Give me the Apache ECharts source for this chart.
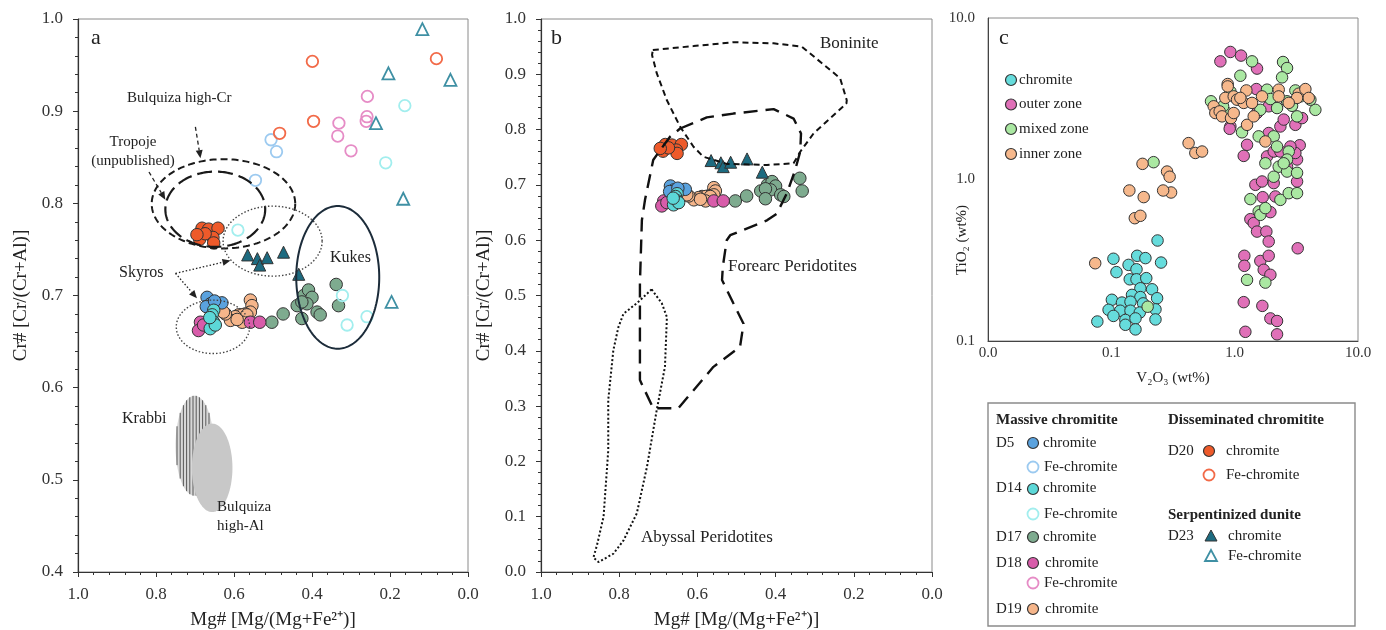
<!DOCTYPE html>
<html>
<head>
<meta charset="utf-8">
<script src="https://cdn.jsdelivr.net/npm/echarts@6.0.0/dist/echarts.min.js"></script>
<style>html,body{margin:0;padding:0;background:#fff}#chart{width:1386px;height:630px}</style>
</head>
<body>
<div id="chart"></div>
<script>
// ---------- spinel compositions: [Mg#, Cr#] ----------
const d5Chromite = [[0.669,0.698],[0.660,0.691],[0.631,0.692],[0.671,0.688],[0.650,0.694]];
const d5FeChromite = [[0.505,0.869],[0.491,0.856],[0.545,0.825]];
const d14Chromite = [[0.652,0.684],[0.656,0.679],[0.652,0.671],[0.661,0.664],[0.648,0.668],[0.662,0.676]];
const d14FeChromite = [[0.162,0.906],[0.211,0.844],[0.590,0.771],[0.322,0.700],[0.310,0.668],[0.259,0.677]];
const d17Chromite = [[0.503,0.671],[0.474,0.680],[0.438,0.689],[0.421,0.700],[0.409,0.706],[0.400,0.698],[0.413,0.691],[0.426,0.693],[0.387,0.682],[0.379,0.679],[0.426,0.675],[0.338,0.712],[0.332,0.689]];
const d18Chromite = [[0.686,0.671],[0.691,0.662],[0.678,0.668],[0.558,0.671],[0.534,0.671]];
const d18FeChromite = [[0.258,0.916],[0.259,0.894],[0.261,0.889],[0.331,0.887],[0.334,0.873],[0.300,0.857]];
const d19Chromite = [[0.558,0.695],[0.554,0.689],[0.558,0.682],[0.571,0.680],[0.588,0.679],[0.579,0.679],[0.567,0.679],[0.597,0.677],[0.609,0.673],[0.622,0.680],[0.627,0.682],[0.579,0.671],[0.592,0.674]];
const d20Chromite = [[0.682,0.773],[0.665,0.772],[0.641,0.773],[0.688,0.761],[0.654,0.763],[0.652,0.757],[0.674,0.767],[0.695,0.766]];
const d20FeChromite = [[0.399,0.954],[0.081,0.957],[0.396,0.889],[0.483,0.876]];
const d23Chromite = [[0.565,0.744],[0.540,0.740],[0.534,0.733],[0.515,0.741],[0.473,0.747],[0.434,0.723]];
const d23FeChromite = [[0.117,0.989],[0.045,0.934],[0.204,0.941],[0.236,0.887],[0.166,0.805],[0.196,0.693]];

// ---------- V2O3 vs TiO2 (wt%) by zone: [V2O3, TiO2] ----------
const zoneChromite = [[0.237,0.419],[0.104,0.323],[0.162,0.337],[0.189,0.326],[0.253,0.306],[0.110,0.267],[0.138,0.296],[0.160,0.278],[0.141,0.241],[0.160,0.241],[0.192,0.245],[0.172,0.212],[0.214,0.209],[0.147,0.193],[0.172,0.187],[0.235,0.184],[0.101,0.180],[0.122,0.173],[0.143,0.175],[0.181,0.171],[0.095,0.156],[0.118,0.154],[0.143,0.154],[0.170,0.150],[0.228,0.157],[0.104,0.143],[0.130,0.135],[0.157,0.138],[0.228,0.136],[0.077,0.132],[0.130,0.126],[0.157,0.118]];
const outerZone = [[0.766,5.39],[0.923,6.16],[1.126,5.85],[1.518,4.86],[1.500,3.63],[1.888,2.84],[1.518,2.58],[0.923,2.13],[1.888,1.94],[2.348,2.13],[2.498,2.35],[3.106,2.18],[3.518,2.40],[3.369,1.63],[3.205,1.33],[1.260,1.64],[1.184,1.40],[1.830,1.39],[2.073,1.49],[2.348,1.49],[3.106,1.46],[1.472,0.927],[1.667,0.972],[2.073,0.950],[3.205,0.972],[2.138,0.785],[1.688,0.777],[2.659,1.20],[1.341,0.568],[1.427,0.537],[1.518,0.476],[1.807,0.476],[1.888,0.413],[1.948,0.628],[1.198,0.337],[1.198,0.292],[1.615,0.313],[1.888,0.337],[1.720,0.276],[1.948,0.257],[3.245,0.375],[1.184,0.174],[1.677,0.165],[1.948,0.138],[2.206,0.133],[1.221,0.114],[2.206,0.110],[2.830,1.60],[0.911,2.06]];
const mixedZone = [[0.643,3.05],[1.112,4.39],[1.383,5.39],[2.467,5.34],[2.659,4.90],[2.422,4.29],[1.830,3.60],[1.948,3.15],[2.206,2.77],[2.659,3.05],[2.919,2.86],[3.205,2.46],[4.512,2.70],[4.111,3.12],[3.106,3.56],[1.147,1.96],[1.566,1.85],[1.774,1.26],[2.073,1.85],[2.206,1.60],[2.744,1.49],[2.659,1.33],[2.276,1.20],[2.659,1.12],[3.205,1.10],[2.073,1.04],[1.341,0.756],[1.566,0.634],[1.615,0.604],[1.774,0.665],[2.348,0.748],[2.744,0.823],[3.205,0.823],[1.260,0.239],[1.774,0.230],[0.867,2.58],[0.805,2.84],[0.923,3.51],[1.615,2.70],[3.411,3.27],[2.498,1.26],[0.220,1.28],[0.197,0.163]];
const innerZone = [[0.878,3.90],[0.878,3.77],[0.840,3.20],[0.982,3.27],[1.045,3.12],[1.244,3.56],[1.184,2.98],[1.383,2.98],[1.667,3.27],[2.276,3.60],[2.276,3.27],[3.306,3.40],[3.744,3.63],[3.985,3.20],[3.205,3.20],[0.676,2.84],[0.697,2.58],[0.756,2.64],[0.790,2.46],[0.934,2.40],[0.982,2.58],[1.260,2.18],[1.427,2.46],[1.774,1.72],[1.112,3.20],[2.744,2.98],[0.423,1.68],[0.480,1.46],[0.544,1.49],[0.179,1.25],[0.283,1.12],[0.297,1.04],[0.305,0.831],[0.263,0.855],[0.140,0.855],[0.183,0.778],[0.155,0.576],[0.172,0.596],[0.074,0.303]];

// ---------- literature fields, panel a: [centre Mg#, centre Cr#, half-width, half-height] ----------
const bulquizaHighCr = [0.627, 0.7995, 0.184, 0.0484];
const tropoje = [0.648, 0.7936, 0.128, 0.0408];
const skyrosUpper = [0.501, 0.759, 0.127, 0.038];
const skyrosLower = [0.654, 0.666, 0.094, 0.029];
const kukes = [0.334, 0.7197, 0.1064, 0.0774];
const krabbi = [0.701, 0.537, 0.049, 0.0543];
const bulquizaHighAl = [0.656, 0.513, 0.052, 0.048];
// pointers: [from Mg#, from Cr#, to Mg#, to Cr#]
const dashedPointers = [[0.699,0.883,0.686,0.849],[0.818,0.834,0.776,0.804]];
const dottedPointers = [[0.750,0.724,0.609,0.738],[0.750,0.724,0.695,0.697]];

// ---------- tectonic fields, panel b: outlines in [Mg#, Cr#] ----------
const boninite = [[0.714,0.944],[0.610,0.951],[0.508,0.958],[0.405,0.956],[0.333,0.950],[0.235,0.893],[0.218,0.853],[0.219,0.847],[0.303,0.793],[0.337,0.760],[0.354,0.739],[0.422,0.736],[0.525,0.738],[0.585,0.751],[0.610,0.769],[0.644,0.805],[0.678,0.853],[0.704,0.902],[0.716,0.935],[0.714,0.944]];
const forearc = [[0.644,0.802],[0.576,0.822],[0.508,0.829],[0.405,0.837],[0.354,0.820],[0.335,0.793],[0.337,0.760],[0.350,0.727],[0.371,0.685],[0.397,0.648],[0.422,0.636],[0.516,0.609],[0.525,0.600],[0.535,0.552],[0.537,0.528],[0.508,0.486],[0.482,0.449],[0.491,0.407],[0.559,0.371],[0.649,0.296],[0.713,0.296],[0.747,0.347],[0.747,0.491],[0.747,0.522],[0.742,0.636],[0.734,0.673],[0.713,0.745],[0.695,0.763],[0.670,0.787],[0.644,0.802]];
const abyssal = [[0.717,0.511],[0.691,0.486],[0.678,0.461],[0.683,0.371],[0.704,0.293],[0.729,0.190],[0.755,0.106],[0.789,0.057],[0.815,0.033],[0.853,0.018],[0.866,0.026],[0.857,0.048],[0.840,0.100],[0.828,0.220],[0.828,0.311],[0.815,0.401],[0.802,0.443],[0.789,0.467],[0.755,0.486],[0.717,0.511]];

// ---------- styling ----------
const SERIF = '"Liberation Serif", "Times New Roman", serif';
const INK = '#222';
const C = {
  d5: '#5aa2de', d5Fe: '#9ccaf0',
  d14: '#5cd8d8', d14Fe: '#a2eeee',
  d17: '#7eab8f',
  d18: '#d85caa', d18Fe: '#e68cc6',
  d19: '#f5b58a',
  d20: '#ee5a2a', d20Fe: '#f26a48',
  d23: '#1d6b80', d23Fe: '#3f90a4',
  zChromite: '#66dcdc', zOuter: '#e070b8', zMixed: '#aae8a2', zInner: '#f6b88c'
};

function filled(name, data, color, idx, symbol, size) {
  return { name, type: 'scatter', xAxisIndex: idx, yAxisIndex: idx, data,
    symbol: symbol || 'circle', symbolSize: size || 12.5, z: 5, silent: true, animation: false,
    itemStyle: { color, borderColor: '#333', borderWidth: 1, opacity: 1 } };
}
function hollow(name, data, color, idx, symbol, size) {
  return { name, type: 'scatter', xAxisIndex: idx, yAxisIndex: idx, data,
    symbol: symbol || 'circle', symbolSize: size || 11.5, z: 5, silent: true, animation: false,
    itemStyle: { color: 'rgba(255,255,255,0)', borderColor: color, borderWidth: 1.8, opacity: 1 } };
}

// ellipse-shaped field drawn through the axes' own scales
function fieldEllipse(field, st) {
  return {
    type: 'custom', xAxisIndex: 0, yAxisIndex: 0, silent: true, animation: false, z: st.z || 10,
    dimensions: ['x', 'y', 'rx', 'ry'], encode: { x: 0, y: 1 }, clip: false,
    data: [field],
    renderItem(params, api) {
      const cx = api.value(0), cy = api.value(1);
      const c = api.coord([cx, cy]);
      const ex = Math.abs(api.coord([cx + api.value(2), cy])[0] - c[0]);
      const ey = Math.abs(api.coord([cx, cy + api.value(3)])[1] - c[1]);
      const pts = [];
      for (let i = 0; i < 180; i++) {
        const a = i / 180 * Math.PI * 2;
        pts.push([c[0] + ex * Math.cos(a), c[1] + ey * Math.sin(a)]);
      }
      const children = [{ type: 'polygon', shape: { points: pts },
        style: { fill: st.fill || 'none', stroke: st.stroke || 'none', lineWidth: st.width || 0, lineDash: st.dash || null } }];
      if (st.hatch) {
        for (let dx = -ex + 1.5; dx < ex; dx += st.hatch) {
          const h = ey * Math.sqrt(1 - (dx / ex) * (dx / ex));
          children.push({ type: 'line', shape: { x1: c[0] + dx, y1: c[1] - h, x2: c[0] + dx, y2: c[1] + h },
            style: { stroke: '#4a4a4a', lineWidth: 0.9 } });
        }
      }
      return { type: 'group', children };
    }
  };
}

function pointerSeries(list, dash) {
  return {
    type: 'custom', xAxisIndex: 0, yAxisIndex: 0, silent: true, animation: false, z: 12,
    dimensions: ['x1', 'y1', 'x2', 'y2'], encode: { x: 0, y: 1 }, clip: false,
    data: list,
    renderItem(params, api) {
      const p1 = api.coord([api.value(0), api.value(1)]);
      const p2 = api.coord([api.value(2), api.value(3)]);
      const ang = Math.atan2(p2[1] - p1[1], p2[0] - p1[0]);
      const L = 8, W = 3.5;
      const base = [p2[0] - L * Math.cos(ang), p2[1] - L * Math.sin(ang)];
      const nx = -Math.sin(ang), ny = Math.cos(ang);
      return { type: 'group', children: [
        { type: 'polyline', shape: { points: [p1, base] }, style: { stroke: '#222', lineWidth: 1.3, lineDash: dash, fill: 'none' } },
        { type: 'polygon', shape: { points: [p2, [base[0] + nx * W, base[1] + ny * W], [base[0] - nx * W, base[1] - ny * W]] },
          style: { fill: '#222' } }
      ] };
    }
  };
}

function outline(data, dash, width) {
  return { type: 'line', xAxisIndex: 1, yAxisIndex: 1, data, showSymbol: false, symbol: 'none',
    silent: true, animation: false, z: 10, smooth: false,
    lineStyle: { color: '#111', width, type: dash } };
}

const tickLabel = { fontFamily: SERIF, fontSize: 17, color: '#333' };
const nameStyle = { fontFamily: SERIF, fontSize: 19, color: INK };

function mgAxis(grid) {
  return { gridIndex: grid, type: 'value', min: 0, max: 1, interval: 0.2, inverse: true,
    axisLine: { onZero: false, lineStyle: { color: '#333', width: 1.2 } },
    axisTick: { show: true, length: 5, lineStyle: { color: '#333' } },
    minorTick: { show: true, splitNumber: 5, length: 3, lineStyle: { color: '#333' } },
    splitLine: { show: false },
    axisLabel: Object.assign({ margin: 14, formatter: v => v.toFixed(1) }, tickLabel),
    name: 'Mg# [Mg/(Mg+Fe²⁺)]', nameLocation: 'middle', nameGap: 39, nameTextStyle: nameStyle };
}
function crAxis(grid, min) {
  return { gridIndex: grid, type: 'value', min, max: 1, interval: 0.1,
    axisLine: { onZero: false, lineStyle: { color: '#333', width: 1.2 } },
    axisTick: { show: true, length: 5, lineStyle: { color: '#333' } },
    minorTick: { show: true, splitNumber: 5, length: 3, lineStyle: { color: '#333' } },
    splitLine: { show: false },
    axisLabel: Object.assign({ margin: 15, formatter: v => v.toFixed(1) }, tickLabel),
    name: 'Cr# [Cr/(Cr+Al)]', nameLocation: 'middle', nameGap: 47, nameTextStyle: nameStyle };
}
const logLabel = { fontFamily: SERIF, fontSize: 15, color: '#333', formatter: v => Number(v).toFixed(1) };

// ---------- legend / annotation graphics ----------
function txt(text, x, y, size, o) {
  o = o || {};
  return { type: 'text', x, y, rotation: o.rot || 0, silent: true, z: 100,
    style: { text, fontFamily: SERIF, fontSize: size, fontWeight: o.bold ? 'bold' : 'normal',
      fill: INK, align: o.align || 'left', verticalAlign: 'middle' } };
}
function dot(cx, cy, color, open) {
  return { type: 'circle', silent: true, z: 100, shape: { cx, cy, r: 5.5 },
    style: open ? { fill: '#fff', stroke: color, lineWidth: 1.8 } : { fill: color, stroke: '#333', lineWidth: 1.2 } };
}
function tri(cx, cy, color, open) {
  return { type: 'polygon', silent: true, z: 100,
    shape: { points: [[cx, cy - 6], [cx + 6, cy + 5], [cx - 6, cy + 5]] },
    style: open ? { fill: '#fff', stroke: color, lineWidth: 1.8 } : { fill: color, stroke: '#333', lineWidth: 1 } };
}

const graphics = [
  // panel letters
  txt('a', 91, 38, 22), txt('b', 551, 38, 22), txt('c', 999, 38, 22),
  // panel a field names
  txt('Bulquiza high-Cr', 127, 98, 15),
  txt('Tropoje', 133, 142, 15, { align: 'center' }),
  txt('(unpublished)', 133, 161, 15, { align: 'center' }),
  txt('Skyros', 119, 273, 16),
  txt('Kukes', 330, 258, 16),
  txt('Krabbi', 122, 419, 16),
  txt('Bulquiza', 217, 507, 15),
  txt('high-Al', 217, 526, 15),
  // panel b field names
  txt('Boninite', 820, 44, 17),
  txt('Forearc Peridotites', 728, 267, 17),
  txt('Abyssal Peridotites', 641, 538, 17),
  // panel c y-axis name
  txt('TiO₂ (wt%)', 962, 240, 15, { rot: Math.PI / 2, align: 'center' }),
  // panel c zone legend
  dot(1011, 80, C.zChromite), txt('chromite', 1019, 80, 15),
  dot(1011, 104.5, C.zOuter), txt('outer zone', 1019, 104.5, 15),
  dot(1011, 129, C.zMixed), txt('mixed zone', 1019, 129, 15),
  dot(1011, 154, C.zInner), txt('inner zone', 1019, 154, 15),
  // sample legend box
  { type: 'rect', silent: true, z: 99, shape: { x: 988, y: 403, width: 367, height: 223 },
    style: { fill: '#fff', stroke: '#8a8a8a', lineWidth: 1.4 } },
  txt('Massive chromitite', 996, 420, 15, { bold: true }),
  txt('D5', 996, 443, 15), dot(1033, 443, C.d5), txt('chromite', 1043, 443, 15),
  dot(1033, 467, C.d5Fe, true), txt('Fe-chromite', 1044, 467, 15),
  txt('D14', 996, 488, 15), dot(1033, 489, C.d14), txt('chromite', 1043, 488, 15),
  dot(1033, 514, C.d14Fe, true), txt('Fe-chromite', 1044, 514, 15),
  txt('D17', 996, 537, 15), dot(1033, 537, C.d17), txt('chromite', 1043, 537, 15),
  txt('D18', 996, 563, 15), dot(1033, 563, C.d18), txt('chromite', 1045, 563, 15),
  dot(1033, 583, C.d18Fe, true), txt('Fe-chromite', 1044, 583, 15),
  txt('D19', 996, 609, 15), dot(1033, 609, C.d19), txt('chromite', 1045, 609, 15),
  txt('Disseminated chromitite', 1168, 420, 15, { bold: true }),
  txt('D20', 1168, 451, 15), dot(1209, 451, C.d20), txt('chromite', 1226, 451, 15),
  dot(1209, 475, C.d20Fe, true), txt('Fe-chromite', 1226, 475, 15),
  txt('Serpentinized dunite', 1168, 515, 15, { bold: true }),
  txt('D23', 1168, 536, 15), tri(1211, 536, C.d23), txt('chromite', 1228, 536, 15),
  tri(1211, 556, C.d23Fe, true), txt('Fe-chromite', 1228, 556, 15)
];

const gridBase = { show: true, borderColor: '#8a8a8a', borderWidth: 1, backgroundColor: 'transparent',
  containLabel: false, outerBoundsMode: 'none' };

const chart = echarts.init(document.getElementById('chart'), null, { renderer: 'canvas' });
chart.setOption({
  backgroundColor: '#fff',
  animation: false,
  grid: [
    Object.assign({ left: 78, top: 19, width: 390, height: 553 }, gridBase),
    Object.assign({ left: 541, top: 19, width: 391, height: 553 }, gridBase),
    Object.assign({ left: 988, top: 18, width: 370, height: 323 }, gridBase)
  ],
  xAxis: [
    mgAxis(0), mgAxis(1),
    { gridIndex: 2, type: 'log', logBase: 10, min: 0.01, max: 10,
      axisLine: { lineStyle: { color: '#444' } }, axisTick: { show: false }, splitLine: { show: false },
      axisLabel: Object.assign({ margin: 5 }, logLabel),
      name: 'V₂O₃ (wt%)', nameLocation: 'middle', nameGap: 30,
      nameTextStyle: { fontFamily: SERIF, fontSize: 15, color: INK } }
  ],
  yAxis: [
    crAxis(0, 0.4), crAxis(1, 0),
    { gridIndex: 2, type: 'log', logBase: 10, min: 0.1, max: 10,
      axisLine: { lineStyle: { color: '#444' } }, axisTick: { show: false }, splitLine: { show: false },
      axisLabel: Object.assign({ margin: 13 }, logLabel) }
  ],
  graphic: graphics,
  series: [
    // panel a fields
    fieldEllipse(krabbi, { fill: '#d8d8d8', hatch: 3.2, z: 2 }),
    fieldEllipse(bulquizaHighAl, { fill: '#c8c8c8', z: 3 }),
    fieldEllipse(bulquizaHighCr, { stroke: '#1a1a1a', width: 2, dash: [7, 4] }),
    fieldEllipse(tropoje, { stroke: '#1a1a1a', width: 2.2, dash: [15, 6] }),
    fieldEllipse(skyrosUpper, { stroke: '#444', width: 1.4, dash: [1.5, 2] }),
    fieldEllipse(skyrosLower, { stroke: '#444', width: 1.4, dash: [1.5, 2] }),
    fieldEllipse(kukes, { stroke: '#1c2c3a', width: 2 }),
    pointerSeries(dashedPointers, [4, 3]),
    pointerSeries(dottedPointers, [1.5, 2]),
    // panel a samples
    filled('D17 chromite', d17Chromite, C.d17, 0),
    filled('D19 chromite', d19Chromite, C.d19, 0),
    filled('D18 chromite', d18Chromite, C.d18, 0),
    filled('D5 chromite', d5Chromite, C.d5, 0),
    filled('D14 chromite', d14Chromite, C.d14, 0),
    filled('D20 chromite', d20Chromite, C.d20, 0),
    filled('D23 chromite', d23Chromite, C.d23, 0, 'triangle', 12),
    hollow('D5 Fe-chromite', d5FeChromite, C.d5Fe, 0),
    hollow('D14 Fe-chromite', d14FeChromite, C.d14Fe, 0),
    hollow('D18 Fe-chromite', d18FeChromite, C.d18Fe, 0),
    hollow('D20 Fe-chromite', d20FeChromite, C.d20Fe, 0),
    hollow('D23 Fe-chromite', d23FeChromite, C.d23Fe, 0, 'triangle', 12),
    // panel b fields and samples
    outline(boninite, [6, 4], 2),
    outline(forearc, [14, 8], 2.4),
    outline(abyssal, [2, 2.2], 2),
    filled('D17 chromite b', d17Chromite, C.d17, 1),
    filled('D19 chromite b', d19Chromite, C.d19, 1),
    filled('D18 chromite b', d18Chromite, C.d18, 1),
    filled('D5 chromite b', d5Chromite, C.d5, 1),
    filled('D14 chromite b', d14Chromite, C.d14, 1),
    filled('D20 chromite b', d20Chromite, C.d20, 1),
    filled('D23 chromite b', d23Chromite, C.d23, 1, 'triangle', 12),
    // panel c zones
    filled('chromite', zoneChromite, C.zChromite, 2, 'circle', 11.5),
    filled('outer zone', outerZone, C.zOuter, 2, 'circle', 11.5),
    filled('mixed zone', mixedZone, C.zMixed, 2, 'circle', 11.5),
    filled('inner zone', innerZone, C.zInner, 2, 'circle', 11.5)
  ]
});
</script>
</body>
</html>
